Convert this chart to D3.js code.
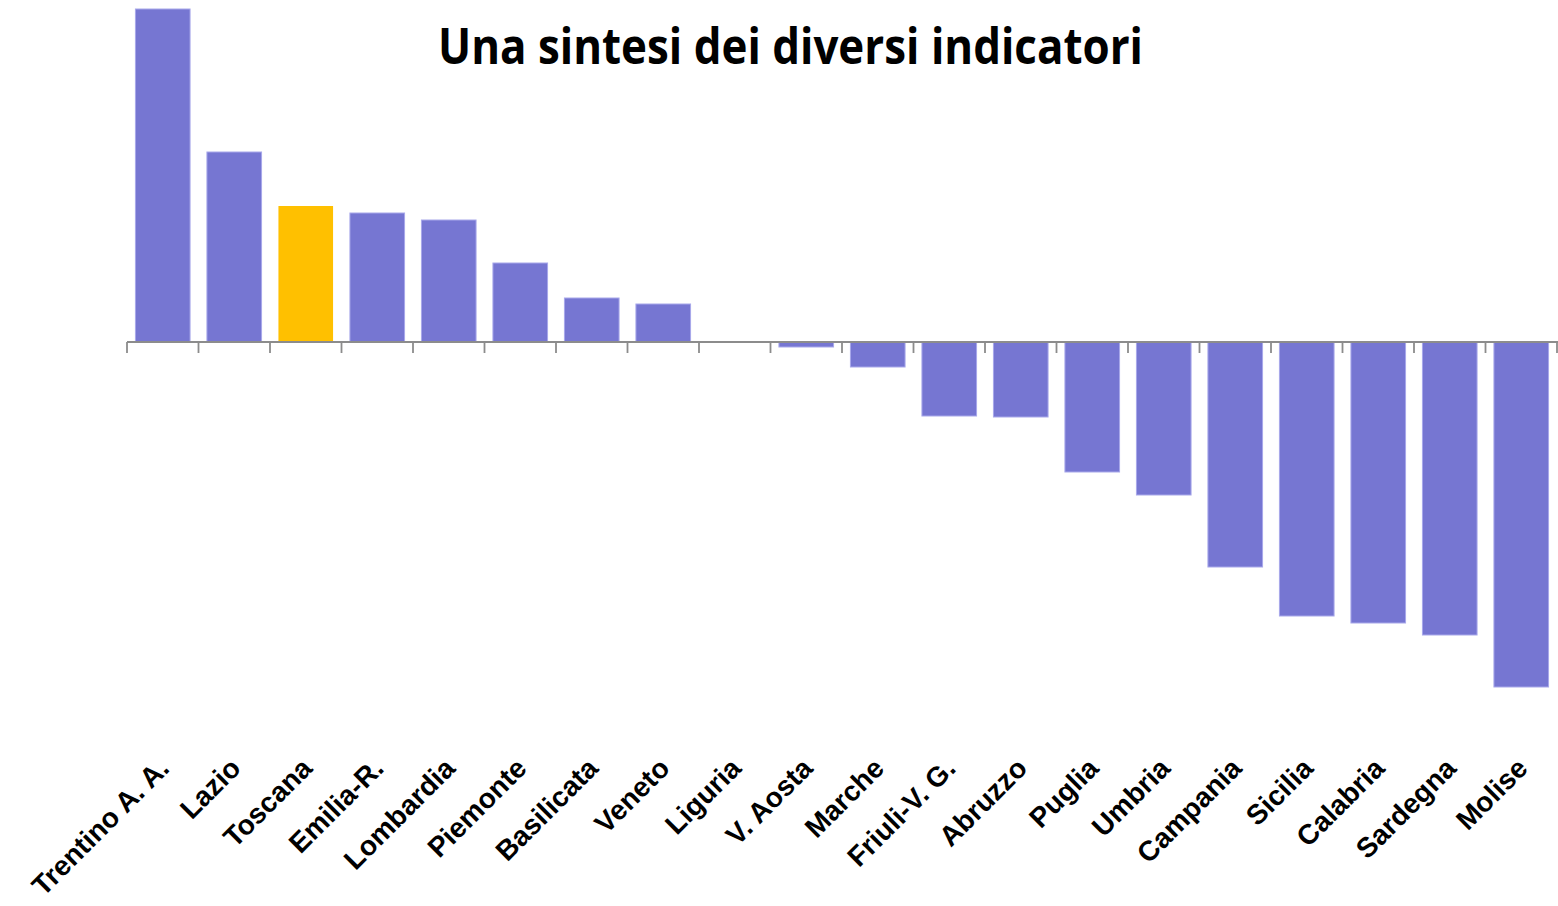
<!DOCTYPE html>
<html>
<head>
<meta charset="utf-8">
<script src="https://cdn.jsdelivr.net/npm/d3@7/dist/d3.min.js"></script>
<style>
  html, body { margin: 0; padding: 0; background: #fff; }
  svg { display: block; }
</style>
</head>
<body>
<svg id="chart" width="1558" height="906"></svg>
<script>
const categories = ["Trentino A. A.", "Lazio", "Toscana", "Emilia-R.", "Lombardia", "Piemonte", "Basilicata", "Veneto", "Liguria", "V. Aosta", "Marche", "Friuli-V. G.", "Abruzzo", "Puglia", "Umbria", "Campania", "Sicilia", "Calabria", "Sardegna", "Molise"];
const values = [3.33, 1.90, 1.36, 1.29, 1.22, 0.79, 0.44, 0.38, 0.0, -0.05, -0.25, -0.74, -0.75, -1.30, -1.53, -2.25, -2.74, -2.81, -2.93, -3.45];
const highlight = ["Toscana"];
const title = "Una sintesi dei diversi indicatori";

const svg = d3.select("#chart");
const zeroY = 342, unitPx = 100;

const x = d3.scaleBand().domain(categories).range([127, 1557]).paddingInner(0.236).paddingOuter(0.118);
const y = d3.scaleLinear().domain([-1, 1]).range([zeroY + unitPx, zeroY - unitPx]);

// bars
svg.append("g").selectAll("rect")
  .data(categories.map((c, i) => ({c, v: values[i]})))
  .join("rect")
  .attr("x", d => x(d.c))
  .attr("width", x.bandwidth())
  .attr("y", d => Math.min(y(d.v), y(0)))
  .attr("height", d => Math.abs(y(d.v) - y(0)))
  .attr("fill", d => highlight.includes(d.c) ? "#FFC000" : "#7676D2")
  .attr("stroke", d => highlight.includes(d.c) ? "none" : "#A8A8EA")
  .attr("stroke-width", 1)
  .style("display", d => d.v === 0 ? "none" : null);

// axis line + ticks at band boundaries
const step = x.step();
const x0 = 127;
const tickXs = d3.range(categories.length + 1).map(i => x0 + i * step);
const ax = svg.append("g");
ax.append("line").attr("x1", 127).attr("x2", 1558).attr("y1", y(0)).attr("y2", y(0))
  .attr("stroke", "#8c8c8c").attr("stroke-width", 1.8);
ax.selectAll("line.tick").data(tickXs).join("line").attr("class", "tick")
  .attr("x1", d => d).attr("x2", d => d).attr("y1", y(0)).attr("y2", y(0) + 11)
  .attr("stroke", "#8c8c8c").attr("stroke-width", 1.8);

// labels
svg.append("g").selectAll("text")
  .data(categories)
  .join("text")
  .attr("transform", d => `translate(${x(d) + x.bandwidth() / 2 + 8},${770}) rotate(-45)`)
  .attr("text-anchor", "end")
  .style("font-family", "'Liberation Sans', Arial, sans-serif")
  .style("font-weight", "bold")
  .style("font-size", "28px")
  .attr("fill", "#000")
  .text(d => d);

// title
svg.append("text")
  .attr("x", 438).attr("y", 64)
  .attr("textLength", 705).attr("lengthAdjust", "spacingAndGlyphs")
  .style("font-family", "'Open Sans', sans-serif")
  .style("font-weight", "bold")
  .style("font-size", "50px")
  .attr("fill", "#000")
  .text(title);
</script>
</body>
</html>
